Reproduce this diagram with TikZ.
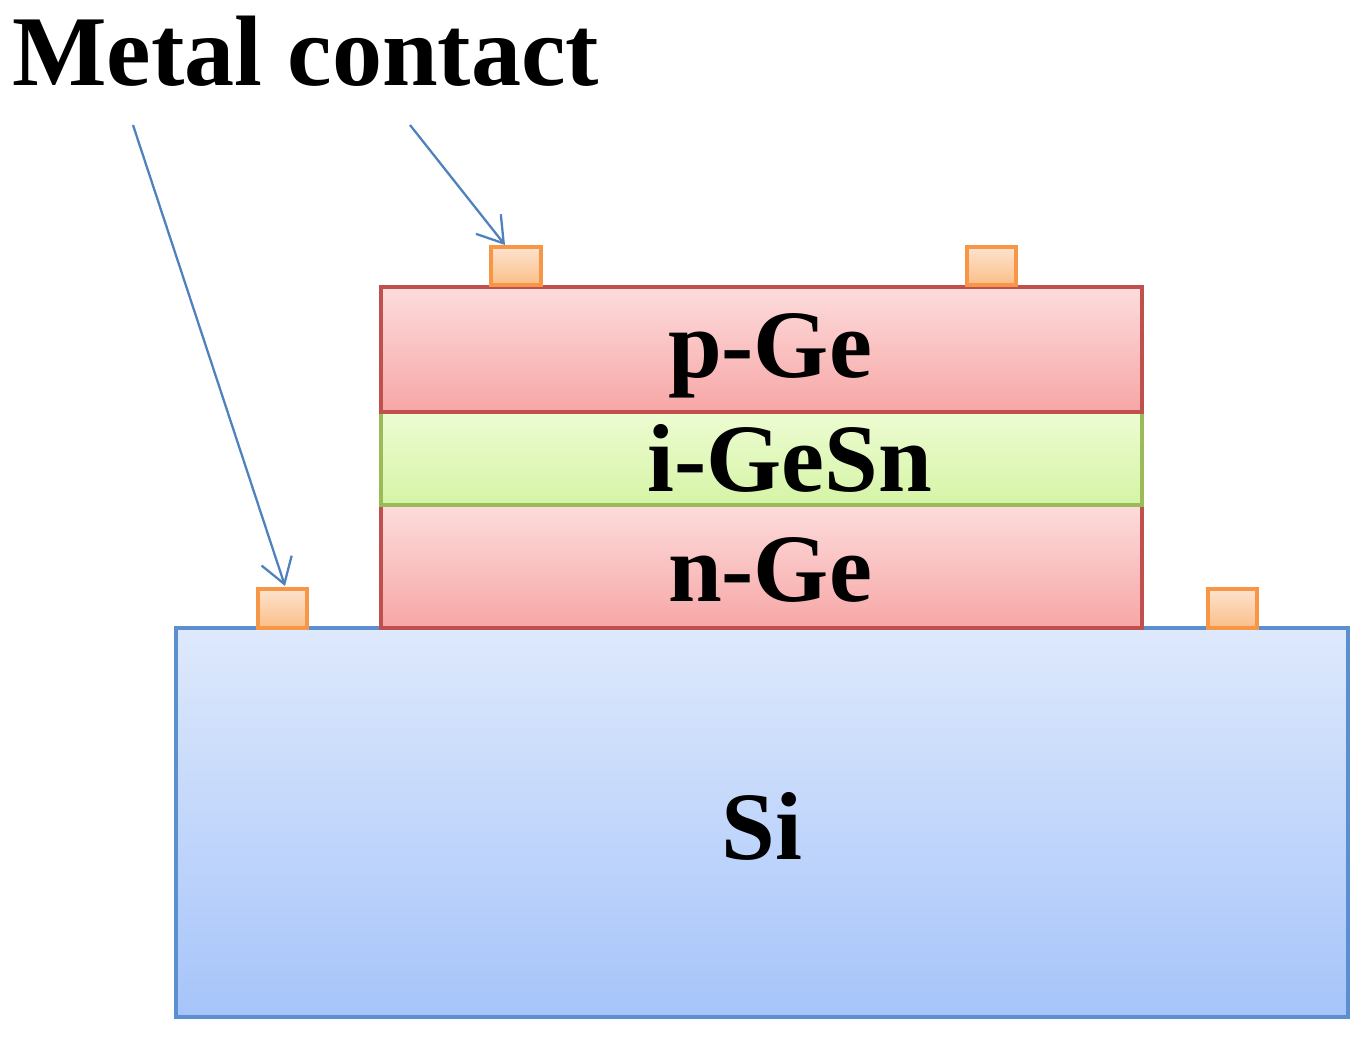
\documentclass[tikz,border=0pt]{standalone}
\usepackage{fontspec}
\setmainfont{Liberation Serif}
\usetikzlibrary{arrows.meta}
\definecolor{siB}{HTML}{5B8FD0}
\definecolor{siT}{HTML}{DEE9FC}
\definecolor{siD}{HTML}{A6C4FA}
\definecolor{rB}{HTML}{C0504D}
\definecolor{rT}{HTML}{FDDCDC}
\definecolor{rD}{HTML}{F7A6A6}
\definecolor{gB}{HTML}{9BBB59}
\definecolor{gT}{HTML}{EDFCD2}
\definecolor{gD}{HTML}{D5F4A6}
\definecolor{oB}{HTML}{F79646}
\definecolor{oT}{HTML}{FDE3CE}
\definecolor{oD}{HTML}{FBBE88}
\definecolor{arr}{HTML}{4F81BD}
\begin{document}
\begin{tikzpicture}[x=0.02cm,y=-0.02cm,
  layer/.style={draw=#1B,line width=1.8pt,top color=#1T,bottom color=#1D},
  contact/.style={layer=o},
  lbl/.style={font=\fontsize{55}{58}\selectfont\bfseries},
  pointer/.style={draw=arr,line width=1.3pt,-{Straight Barb[length=14pt,width=18pt,line width=1.3pt]}}]
\useasboundingbox (0,0) rectangle (1368,1041);
\draw[layer=si] (176,628) rectangle (1348,1017);
\draw[layer=r] (381,505) rectangle (1142,628);
\draw[layer=g] (381,412) rectangle (1142,505);
\draw[layer=r] (381,287) rectangle (1142,412);
\node[lbl] (si) at (762,826) {Si};
\node[lbl] (nge) at (770,570) {n-Ge};
\node[lbl] (igesn) at (790,458) {i-GeSn};
\node[lbl] (pge) at (770,356) {p-Ge};
\path[contact] (491,247) rectangle (541,285);
\path[contact] (967,247) rectangle (1016,285);
\path[contact] (258,589) rectangle (307,628);
\path[contact] (1208,589) rectangle (1257,628);
\node[anchor=north west,inner sep=0pt,font=\fontsize{57}{60}\selectfont\bfseries] (title) at (12,16) {Metal contact};
\coordinate (s1) at (133,125);
\coordinate (s2) at (410,125);
\coordinate (e1) at (285,586);
\coordinate (e2) at (505,245);
\draw[pointer] (s1) -- (e1);
\draw[pointer] (s2) -- (e2);
\end{tikzpicture}
\end{document}
